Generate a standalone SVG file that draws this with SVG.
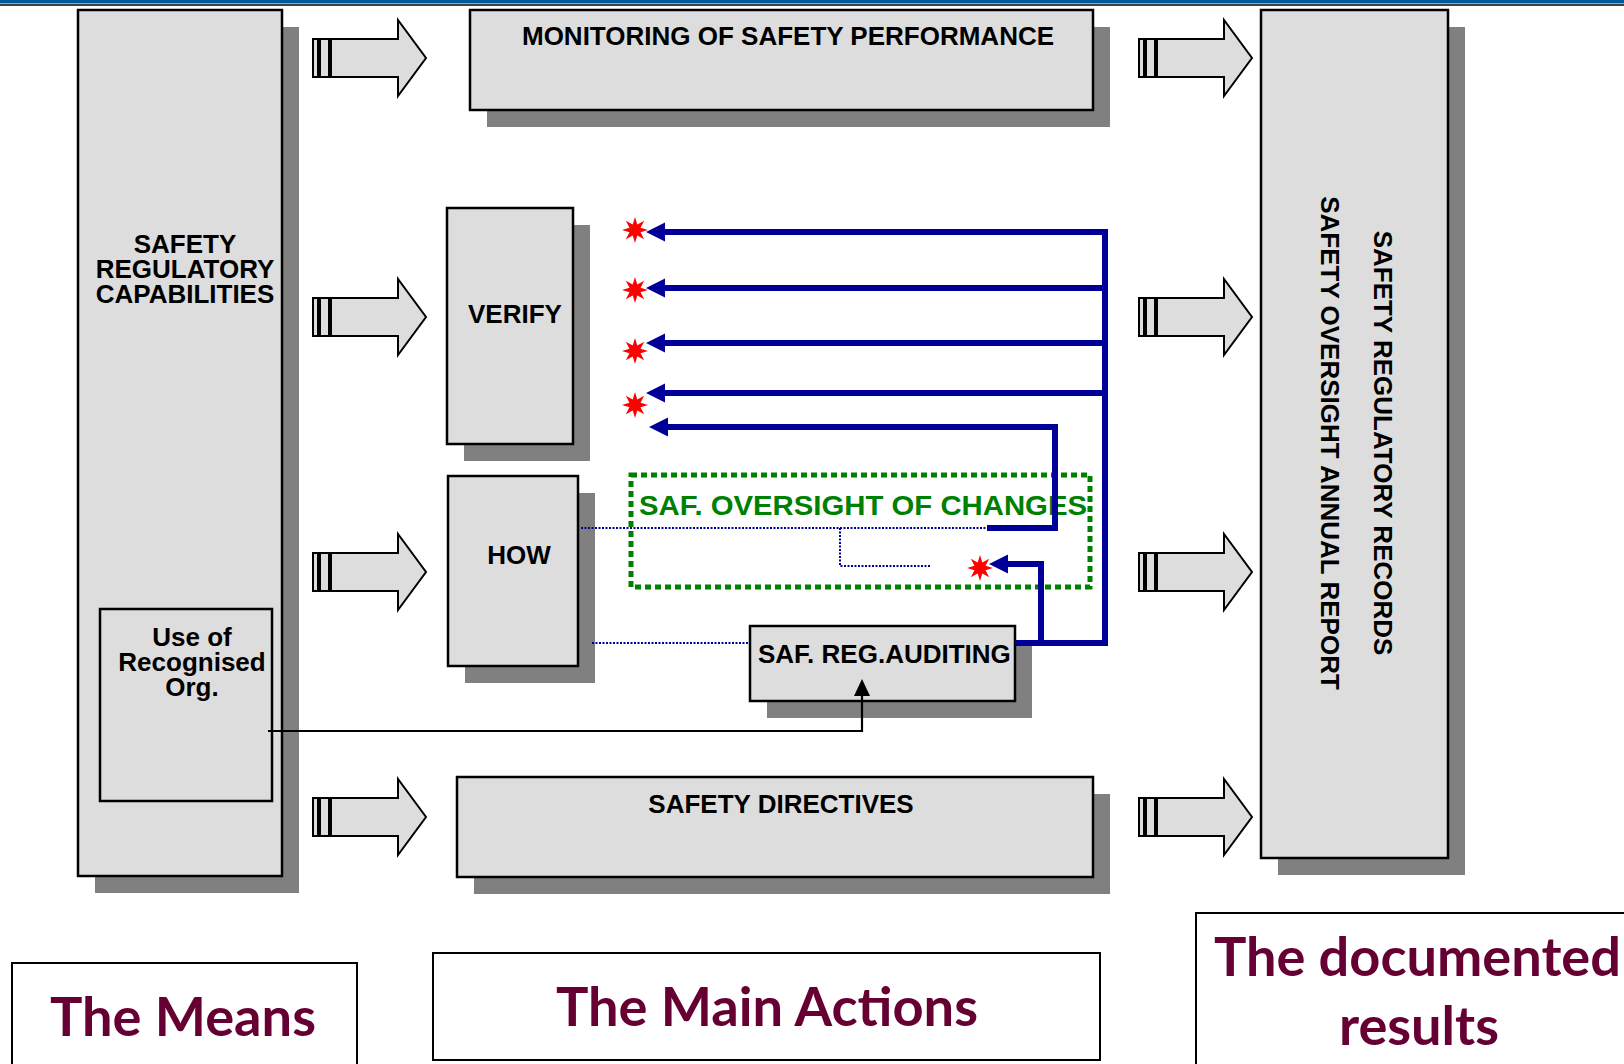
<svg xmlns="http://www.w3.org/2000/svg" width="1624" height="1064" viewBox="0 0 1624 1064">
<style>
.box{fill:#dddddd;stroke:#000;stroke-width:2.5}
.shadow{fill:#808080}
.t{font-family:"Liberation Sans",Arial,sans-serif;font-weight:bold;font-size:26px;fill:#000}
.tc{text-anchor:middle}
.lbl{font-family:Lato,"Open Sans",sans-serif;font-weight:bold;font-size:53px;fill:#660033}
.lblbox{fill:#fff;stroke:#000;stroke-width:2}
.blue{fill:none;stroke:#000099;stroke-width:6;stroke-linejoin:miter}
.bluehead{fill:#000099}
.dot{fill:none;stroke:#000099;stroke-width:2;stroke-dasharray:2 1.5}
.star{fill:#ff0000}
.barrow{fill:#dddddd;stroke:#000;stroke-width:2}
</style>
<defs>
<g id="bigArrow">
<rect x="0" y="-19" width="5" height="38"/>
<rect x="7" y="-19" width="9" height="38"/>
<polygon points="18,-19 85,-19 85,-38 113,0 85,38 85,19 18,19"/>
</g>
<polygon id="star" points="0,-13 2.3,-5.54 9.19,-9.19 5.54,-2.3 13,0 5.54,2.3 9.19,9.19 2.3,5.54 0,13 -2.3,5.54 -9.19,9.19 -5.54,2.3 -13,0 -5.54,-2.3 -9.19,-9.19 -2.3,-5.54"/>
<polygon id="bhead" points="0,0 19,-9.5 19,9.5"/>
</defs>

<rect x="0" y="0" width="1624" height="3.5" fill="#005a9c"/>
<line x1="0" y1="5" x2="1624" y2="5" stroke="#000" stroke-width="1.3"/>

<g id="capabilities">
<rect class="shadow" x="95" y="27" width="204" height="866"/>
<rect class="box" x="78" y="10" width="204" height="866"/>
<text class="t tc" x="185" y="253">SAFETY</text>
<text class="t tc" x="185" y="278">REGULATORY</text>
<text class="t tc" x="185" y="303">CAPABILITIES</text>
</g>

<g id="recognised-org">
<rect class="box" x="100" y="609" width="172" height="192"/>
<text class="t tc" x="192" y="646">Use of</text>
<text class="t tc" x="192" y="671">Recognised</text>
<text class="t tc" x="192" y="696">Org.</text>
</g>

<g id="monitoring">
<rect class="shadow" x="487" y="27" width="623" height="100"/>
<rect class="box" x="470" y="10" width="623" height="100"/>
<text class="t tc" x="788" y="45">MONITORING OF SAFETY PERFORMANCE</text>
</g>

<g id="verify">
<rect class="shadow" x="464" y="225" width="126" height="236"/>
<rect class="box" x="447" y="208" width="126" height="236"/>
<text class="t tc" x="515" y="323">VERIFY</text>
</g>

<g id="how">
<rect class="shadow" x="465" y="493" width="130" height="190"/>
<rect class="box" x="448" y="476" width="130" height="190"/>
<text class="t tc" x="519" y="564">HOW</text>
</g>

<g id="oversight-of-changes">
<rect x="631" y="475" width="459" height="112" fill="none" stroke="#008000" stroke-width="5" stroke-dasharray="6 4"/>
<text x="639" y="515" font-family="'Liberation Sans',Arial,sans-serif" font-weight="bold" font-size="27" fill="#008000" textLength="448" lengthAdjust="spacingAndGlyphs">SAF. OVERSIGHT OF CHANGES</text>
</g>

<g id="auditing">
<rect class="shadow" x="767" y="643" width="265" height="75"/>
<rect class="box" x="750" y="626" width="265" height="75"/>
<text class="t" x="758" y="663">SAF. REG.AUDITING</text>
</g>

<g id="directives">
<rect class="shadow" x="474" y="794" width="636" height="100"/>
<rect class="box" x="457" y="777" width="636" height="100"/>
<text class="t tc" x="781" y="813">SAFETY DIRECTIVES</text>
</g>

<g id="records">
<rect class="shadow" x="1278" y="27" width="187" height="848"/>
<rect class="box" x="1261" y="10" width="187" height="848"/>
<text class="t tc" transform="translate(1374,443) rotate(90)">SAFETY REGULATORY RECORDS</text>
<text class="t tc" transform="translate(1321,443) rotate(90)">SAFETY OVERSIGHT ANNUAL REPORT</text>
</g>

<g id="connectors">
<use href="#bigArrow" class="barrow" x="313" y="58"/>
<use href="#bigArrow" class="barrow" x="313" y="317"/>
<use href="#bigArrow" class="barrow" x="313" y="572"/>
<use href="#bigArrow" class="barrow" x="313" y="817"/>
<use href="#bigArrow" class="barrow" x="1139" y="58"/>
<use href="#bigArrow" class="barrow" x="1139" y="317"/>
<use href="#bigArrow" class="barrow" x="1139" y="572"/>
<use href="#bigArrow" class="barrow" x="1139" y="817"/>

<path class="dot" d="M581,528 H987"/>
<path class="dot" d="M840,528 V566 H930"/>
<path class="dot" d="M592,643 H748"/>

<path class="blue" d="M1015,643 H1105 V232 H664"/>
<path class="blue" d="M1105,288 H664"/>
<path class="blue" d="M1105,343 H664"/>
<path class="blue" d="M1105,393 H664"/>
<path class="blue" d="M667,427 H1055 V528 H987"/>
<path class="blue" d="M1041,643 V564 H1007"/>
<use href="#bhead" class="bluehead" x="646" y="232"/>
<use href="#bhead" class="bluehead" x="646" y="288"/>
<use href="#bhead" class="bluehead" x="646" y="343"/>
<use href="#bhead" class="bluehead" x="646" y="393"/>
<use href="#bhead" class="bluehead" x="649" y="427"/>
<use href="#bhead" class="bluehead" x="989" y="564"/>

<use href="#star" class="star" x="635" y="230"/>
<use href="#star" class="star" x="635" y="290"/>
<use href="#star" class="star" x="635" y="351"/>
<use href="#star" class="star" x="635" y="405"/>
<use href="#star" class="star" x="980" y="568"/>

<path d="M268,731 H862 V694" fill="none" stroke="#000" stroke-width="2.2"/>
<polygon points="862,679 854,696 870,696" fill="#000"/>
</g>

<g id="label-means">
<rect class="lblbox" x="12" y="963" width="345" height="120"/>
<text class="lbl" x="50" y="1036" textLength="266" lengthAdjust="spacingAndGlyphs">The Means</text>
</g>
<g id="label-actions">
<rect class="lblbox" x="433" y="953" width="667" height="107"/>
<text class="lbl" x="556" y="1026" textLength="422" lengthAdjust="spacingAndGlyphs">The Main Actions</text>
</g>
<g id="label-results">
<rect class="lblbox" x="1196" y="913" width="460" height="170"/>
<text class="lbl" x="1214" y="976" textLength="407" lengthAdjust="spacingAndGlyphs">The documented</text>
<text class="lbl" x="1339" y="1045" textLength="160" lengthAdjust="spacingAndGlyphs">results</text>
</g>
</svg>
